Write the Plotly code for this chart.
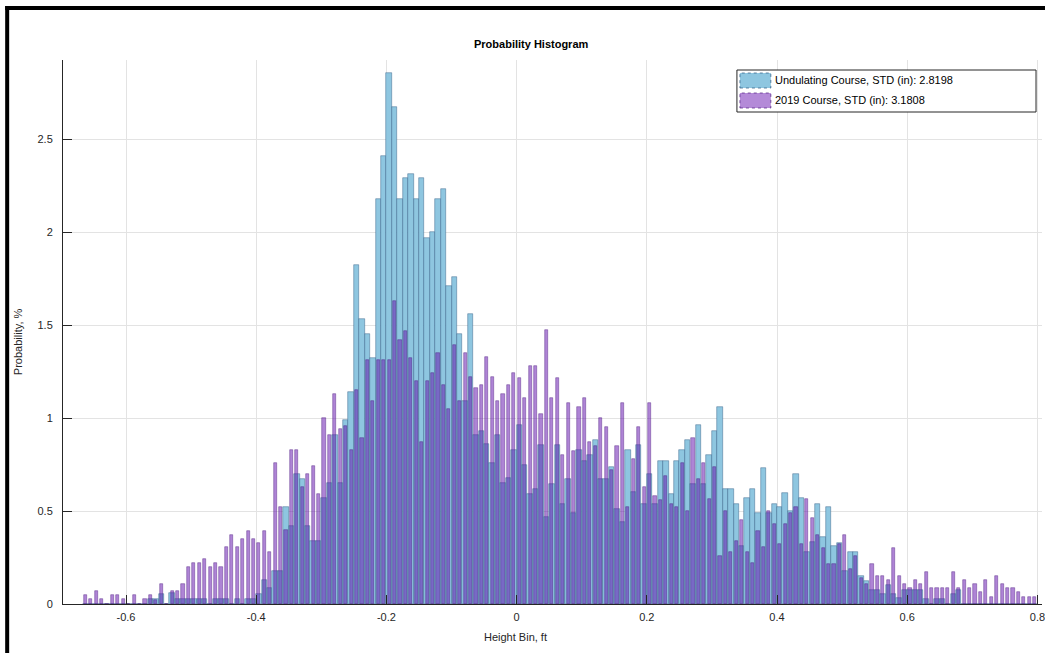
import numpy as np
import plotly.graph_objects as go

# ---- data (probability, % per bin; bins of 0.1 in = 1/120 ft) ----
bin_width = 1.0 / 120.0
first_bin = -80  # first bin index (bin k spans k*bin_width .. (k+1)*bin_width)

undulating = [
    0, 0, 0, 0, 0, 0, 0, 0, 0, 0,                       # -80..-71
    0, 0, 0.027, 0.027, 0.054, 0, 0.057, 0.027, 0.027, 0.027,   # -70..-61
    0.027, 0.027, 0.027, 0, 0.027, 0.027, 0.027, 0, 0.027, 0,   # -60..-51
    0.027, 0.027, 0.054, 0.13, 0.084, 0.18, 0.18, 0.52, 0.42, 0.70,  # -50..-41
    0.67, 0.42, 0.34, 0.34, 0.57, 0.65, 0.91, 0.65, 0.99, 1.14,  # -40..-31
    1.82, 1.53, 1.45, 1.32, 2.18, 2.41, 2.855, 2.67, 2.18, 2.29,  # -30..-21
    2.31, 2.18, 2.29, 1.97, 2.00, 2.18, 2.23, 1.71, 1.76, 1.45,  # -20..-11
    1.09, 1.56, 0.91, 0.93, 0.86, 0.76, 0.91, 0.65, 0.68, 0.83,  # -10..-1
    0.96, 0.75, 0.59, 0.62, 0.855, 0.47, 0.645, 0.855, 0.54, 0.67,  # 0..9
    0.49, 0.83, 0.77, 0.80, 0.88, 0.67, 0.67, 0.735, 0.51, 0.44,  # 10..19
    0.83, 0.60, 0.855, 0.54, 0.70, 0.54, 0.77, 0.77, 0.59, 0.77,  # 20..29
    0.83, 0.88, 0.645, 0.96, 0.645, 0.80, 0.93, 1.06, 0.62, 0.62,  # 30..39
    0.54, 0.31, 0.57, 0.62, 0.49, 0.73, 0.49, 0.54, 0.52, 0.595,  # 40..49
    0.50, 0.70, 0.57, 0.28, 0.335, 0.54, 0.36, 0.52, 0.31, 0.33,  # 50..59
    0.18, 0.28, 0.28, 0.15, 0.125, 0.075, 0.075, 0.054, 0.10, 0.054,  # 60..69
    0.03, 0.075, 0.075, 0.075, 0.075, 0.027, 0, 0.027, 0.027, 0,  # 70..79
    0.054, 0.075, 0, 0, 0, 0, 0, 0, 0, 0,  # 80..89
    0, 0, 0, 0, 0, 0,  # 90..95
]

course_2019 = [
    0.048, 0.025, 0.068, 0.025, 0, 0.048, 0.048, 0.025, 0, 0.048,  # -80..-71
    0, 0.025, 0.048, 0.02, 0.11, 0, 0.068, 0.068, 0.11, 0.20,  # -70..-61
    0.22, 0.22, 0.24, 0.197, 0.22, 0.197, 0.305, 0.37, 0.305, 0.35,  # -60..-51
    0.39, 0.35, 0.326, 0.39, 0.28, 0.76, 0.52, 0.40, 0.83, 0.83,  # -50..-41
    0.63, 0.70, 0.74, 0.59, 1.00, 0.91, 1.13, 0.94, 0.955, 0.83,  # -40..-31
    1.15, 0.89, 1.31, 1.09, 1.31, 1.31, 1.31, 1.63, 1.42, 1.47,  # -30..-21
    1.32, 1.20, 0.87, 1.20, 1.24, 1.35, 1.18, 1.05, 1.39, 1.09,  # -20..-11
    1.35, 1.22, 1.16, 1.18, 1.33, 1.22, 1.09, 1.13, 1.18, 1.24,  # -10..-1
    1.215, 1.11, 1.28, 1.28, 1.02, 1.475, 1.106, 1.215, 0.80, 1.08,  # 0..9
    0.82, 1.06, 1.11, 0.87, 0.85, 1.00, 0.95, 0.72, 0.85, 1.08,  # 10..19
    0.52, 0.78, 0.95, 0.63, 1.08, 0.58, 0.56, 0.69, 0.54, 0.52,  # 20..29
    0.76, 0.50, 0.89, 0.67, 0.76, 0.565, 0.735, 0.26, 0.50, 0.28,  # 30..39
    0.34, 0.45, 0.28, 0.22, 0.39, 0.305, 0.50, 0.43, 0.32, 0.43,  # 40..49
    0.49, 0.52, 0.32, 0.565, 0.46, 0.37, 0.30, 0.215, 0.215, 0.32,  # 50..59
    0.37, 0.19, 0.256, 0.14, 0.11, 0.215, 0.15, 0.15, 0.13, 0.30,  # 60..69
    0.15, 0.11, 0.086, 0.13, 0.11, 0.17, 0.086, 0.086, 0.086, 0.086,  # 70..79
    0.17, 0.086, 0.13, 0.086, 0.11, 0.063, 0.13, 0.04, 0.15, 0.11,  # 80..89
    0.086, 0.086, 0.063, 0.04, 0.04, 0.04,  # 90..95
]

legend_labels = ["Undulating Course, STD (in): 2.8198", "2019 Course, STD (in): 3.1808"]
x_ticks = [-0.6, -0.4, -0.2, 0, 0.2, 0.4, 0.6, 0.8]
x_tick_text = ["-0.6", "-0.4", "-0.2", "0", "0.2", "0.4", "0.6", "0.8"]
y_ticks = [0, 0.5, 1, 1.5, 2, 2.5]
y_tick_text = ["0", "0.5", "1", "1.5", "2", "2.5"]

# ---- styling ----
W, H = 1045, 653
ML, MT, MB = 63, 60, 49
PW, PH = W - ML, H - MT - MB
FONT = "Liberation Sans, Arial, Helvetica, sans-serif"
BLUE = "#8EC6E0"
BLUE_EDGE = "rgba(40,85,125,0.7)"
PURPLE = "rgba(100,20,175,0.52)"
PURPLE_SOLID = "#B48AD8"
PURPLE_EDGE = "rgba(80,30,130,0.7)"


def px2x(px):
    return (px - ML) / PW


def py2y(py):
    return (MT + PH - py) / PH


centers = (np.arange(first_bin, first_bin + len(undulating)) + 0.5) * bin_width

fig = go.Figure()
fig.add_trace(go.Bar(
    x=centers, y=undulating, width=bin_width,
    marker=dict(color=BLUE, line=dict(color=BLUE_EDGE, width=0.6)),
    name=legend_labels[0], showlegend=False,
))
fig.add_trace(go.Bar(
    x=centers, y=course_2019, width=bin_width * 0.58,
    marker=dict(color=PURPLE, line=dict(color=PURPLE_EDGE, width=0.6)),
    name=legend_labels[1], showlegend=False,
))

shapes = []
# outer black frame (left and top edges of the window)
shapes.append(dict(type="line", xref="paper", yref="paper",
                   x0=px2x(7), x1=px2x(7), y0=py2y(6), y1=py2y(670),
                   line=dict(color="black", width=4)))
shapes.append(dict(type="line", xref="paper", yref="paper",
                   x0=px2x(5), x1=px2x(1060), y0=py2y(8), y1=py2y(8),
                   line=dict(color="black", width=4)))
# legend box and swatches
shapes.append(dict(type="rect", xref="paper", yref="paper",
                   x0=px2x(739), x1=px2x(1039), y0=py2y(112), y1=py2y(70),
                   fillcolor="white", line=dict(color="#262626", width=1)))
shapes.append(dict(type="rect", xref="paper", yref="paper",
                   x0=px2x(742), x1=px2x(773), y0=py2y(88), y1=py2y(73),
                   fillcolor=BLUE, line=dict(color=BLUE_EDGE, width=1, dash="dot")))
shapes.append(dict(type="rect", xref="paper", yref="paper",
                   x0=px2x(742), x1=px2x(773), y0=py2y(108), y1=py2y(93),
                   fillcolor=PURPLE_SOLID, line=dict(color=PURPLE_EDGE, width=1, dash="dot")))

annotations = [
    dict(text="<b>Probability Histogram</b>", xref="paper", yref="paper",
         x=px2x(533), y=py2y(44), xanchor="center", yanchor="middle",
         showarrow=False, font=dict(family=FONT, size=11, color="black")),
    dict(text="Height Bin, ft", xref="paper", yref="paper",
         x=px2x(517), y=py2y(637), xanchor="center", yanchor="middle",
         showarrow=False, font=dict(family=FONT, size=11, color="#262626")),
    dict(text="Probability, %", xref="paper", yref="paper", textangle=-90,
         x=px2x(18), y=py2y(342), xanchor="center", yanchor="middle",
         showarrow=False, font=dict(family=FONT, size=11, color="#262626")),
    dict(text=legend_labels[0], xref="paper", yref="paper",
         x=px2x(775), y=py2y(80), xanchor="left", yanchor="middle",
         showarrow=False, font=dict(family=FONT, size=11, color="black")),
    dict(text=legend_labels[1], xref="paper", yref="paper",
         x=px2x(775), y=py2y(100), xanchor="left", yanchor="middle",
         showarrow=False, font=dict(family=FONT, size=11, color="black")),
]

fig.update_layout(
    width=W, height=H,
    margin=dict(l=ML, r=0, t=MT, b=MB, pad=0),
    paper_bgcolor="white", plot_bgcolor="white",
    barmode="overlay", bargap=0,
    showlegend=False,
    font=dict(family=FONT, size=11, color="#262626"),
    shapes=shapes, annotations=annotations,
    xaxis=dict(
        range=[-455 / 653, (W - 518) / 653],
        tickmode="array", tickvals=x_ticks, ticktext=x_tick_text,
        ticks="inside", ticklen=9, tickwidth=1, tickcolor="#262626",
        ticklabeloverflow="allow", ticklabelstandoff=3,
        showgrid=True, gridcolor="#E3E3E3", gridwidth=1,
        showline=True, linecolor="#262626", linewidth=1,
        zeroline=False, tickfont=dict(family=FONT, size=11, color="#262626"),
    ),
    yaxis=dict(
        range=[0, PH / 186],
        tickmode="array", tickvals=y_ticks, ticktext=y_tick_text,
        ticks="inside", ticklen=9, tickwidth=1, tickcolor="#262626",
        ticklabelstandoff=7,
        showgrid=True, gridcolor="#E3E3E3", gridwidth=1,
        showline=True, linecolor="#262626", linewidth=1,
        zeroline=False, tickfont=dict(family=FONT, size=11, color="#262626"),
    ),
)

fig.write_html("out.html")
